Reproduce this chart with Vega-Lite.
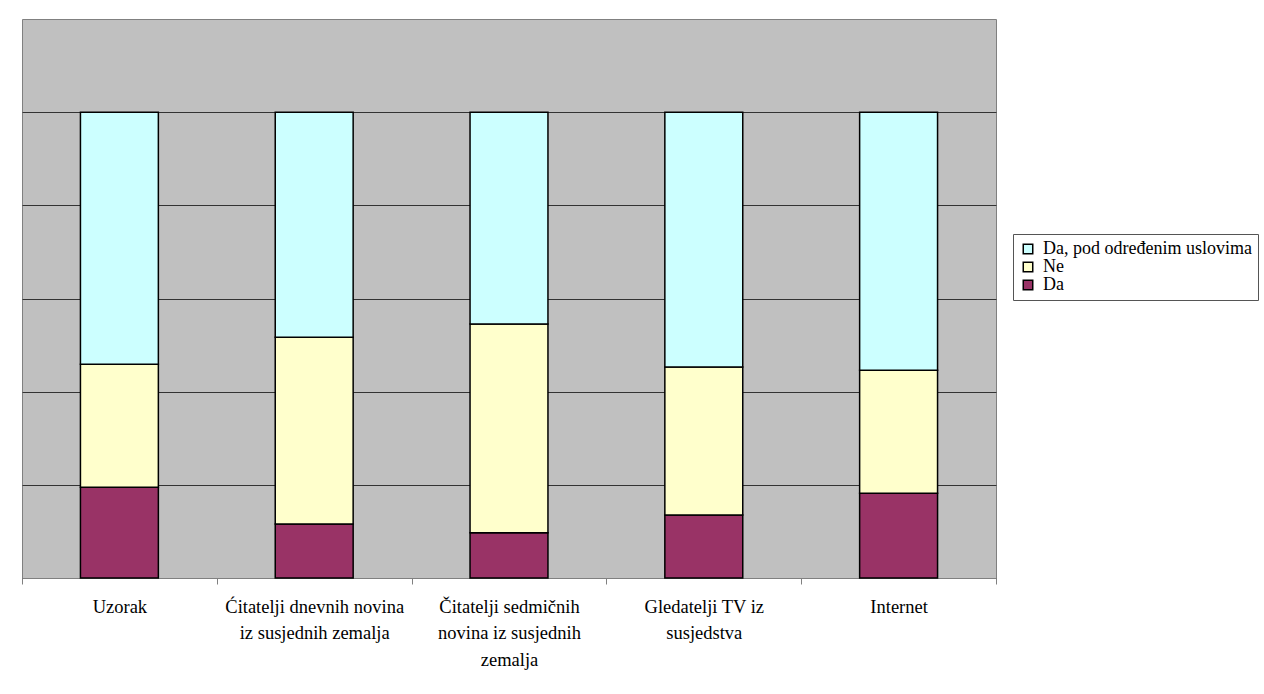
{
  "$schema": "https://vega.github.io/schema/vega-lite/v6.json",
  "autosize": "none",
  "width": 974,
  "height": 559,
  "padding": {"left": 22, "top": 19, "right": 268, "bottom": 116},
  "background": "white",
  "config": {
    "view": {"fill": "#C0C0C0", "stroke": "#808080", "strokeWidth": 1},
    "font": "Liberation Serif, DejaVu Serif, serif",
    "axis": {"labelFont": "Liberation Serif, DejaVu Serif, serif"},
    "legend": {"labelFont": "Liberation Serif, DejaVu Serif, serif"}
  },
  "data": {
    "values": [
      {"cat": "Uzorak", "serija": "Da", "ord": 1, "v": 19.5},
      {"cat": "Uzorak", "serija": "Ne", "ord": 2, "v": 26.4},
      {"cat": "Uzorak", "serija": "Da, pod određenim uslovima", "ord": 3, "v": 54.1},
      {"cat": "Ćitatelji dnevnih novina|iz susjednih zemalja", "serija": "Da", "ord": 1, "v": 11.6},
      {"cat": "Ćitatelji dnevnih novina|iz susjednih zemalja", "serija": "Ne", "ord": 2, "v": 40.1},
      {"cat": "Ćitatelji dnevnih novina|iz susjednih zemalja", "serija": "Da, pod određenim uslovima", "ord": 3, "v": 48.3},
      {"cat": "Čitatelji sedmičnih|novina iz susjednih|zemalja", "serija": "Da", "ord": 1, "v": 9.7},
      {"cat": "Čitatelji sedmičnih|novina iz susjednih|zemalja", "serija": "Ne", "ord": 2, "v": 44.8},
      {"cat": "Čitatelji sedmičnih|novina iz susjednih|zemalja", "serija": "Da, pod određenim uslovima", "ord": 3, "v": 45.5},
      {"cat": "Gledatelji TV iz|susjedstva", "serija": "Da", "ord": 1, "v": 13.5},
      {"cat": "Gledatelji TV iz|susjedstva", "serija": "Ne", "ord": 2, "v": 31.8},
      {"cat": "Gledatelji TV iz|susjedstva", "serija": "Da, pod određenim uslovima", "ord": 3, "v": 54.7},
      {"cat": "Internet", "serija": "Da", "ord": 1, "v": 18.2},
      {"cat": "Internet", "serija": "Ne", "ord": 2, "v": 26.4},
      {"cat": "Internet", "serija": "Da, pod određenim uslovima", "ord": 3, "v": 55.4}
    ]
  },
  "mark": {"type": "bar", "stroke": "black", "strokeWidth": 1.5, "width": {"band": 0.4}},
  "encoding": {
    "x": {
      "field": "cat",
      "type": "nominal",
      "sort": null,
      "scale": {"paddingInner": 0, "paddingOuter": 0},
      "axis": {
        "title": null,
        "labelAngle": 0,
        "labelExpr": "split(datum.label, '|')",
        "labelFontSize": 18.5,
        "labelColor": "black",
        "labelLineHeight": 26.5,
        "labelPadding": 13,
        "labelLimit": 300,
        "tickBand": "extent",
        "tickColor": "#808080",
        "tickSize": 6,
        "domainColor": "#808080",
        "grid": false
      }
    },
    "y": {
      "field": "v",
      "type": "quantitative",
      "stack": "zero",
      "scale": {"domain": [0, 120], "nice": false},
      "axis": {
        "title": null,
        "labels": false,
        "ticks": false,
        "domain": false,
        "grid": true,
        "gridColor": "#333333",
        "gridWidth": 1,
        "values": [0, 20, 40, 60, 80, 100]
      }
    },
    "color": {
      "field": "serija",
      "type": "nominal",
      "scale": {
        "domain": ["Da, pod određenim uslovima", "Ne", "Da"],
        "range": ["#CCFFFF", "#FFFFCC", "#993366"]
      },
      "legend": {
        "title": null,
        "orient": "none",
        "legendX": 991,
        "legendY": 215,
        "symbolType": "square",
        "symbolSize": 90,
        "symbolStrokeColor": "black",
        "symbolStrokeWidth": 1.5,
        "labelFontSize": 18,
        "labelColor": "black",
        "labelOffset": 6,
        "labelLimit": 300,
        "rowPadding": 0,
        "strokeColor": "#555555",
        "padding": 6,
        "fillColor": "white"
      }
    },
    "order": {"field": "ord", "type": "quantitative", "sort": "ascending"}
  }
}
